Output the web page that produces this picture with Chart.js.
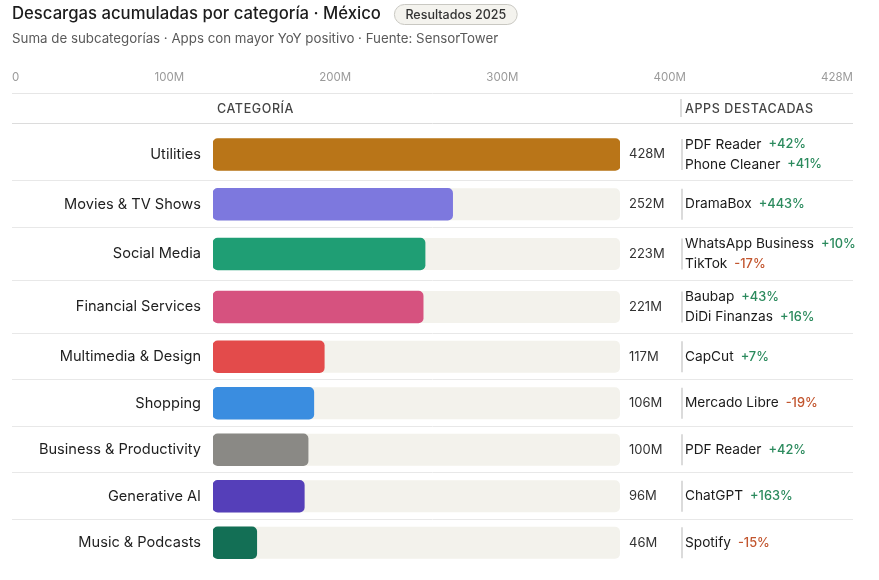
<!DOCTYPE html>
<html>
<head>
<meta charset="utf-8">
<script src="https://cdn.jsdelivr.net/npm/chart.js@4/dist/chart.umd.min.js"></script>
<style>
  html, body { margin: 0; padding: 0; background: #ffffff; }
  #wrap { width: 879px; height: 580px; position: relative; }
</style>
</head>
<body>
<div id="wrap"><canvas id="c" width="879" height="580"></canvas></div>
<script>
// ---- data ----
const categories = ['Utilities', 'Movies & TV Shows', 'Social Media', 'Financial Services', 'Multimedia & Design', 'Shopping', 'Business & Productivity', 'Generative AI', 'Music & Podcasts'];
const downloads = [428, 252, 223, 221, 117, 106, 100, 96, 46];
const appNames = [
  ['PDF Reader', 'Phone Cleaner'],
  ['DramaBox'],
  ['WhatsApp Business', 'TikTok'],
  ['Baubap', 'DiDi Finanzas'],
  ['CapCut'],
  ['Mercado Libre'],
  ['PDF Reader'],
  ['ChatGPT'],
  ['Spotify']
];
const appYoY = [[42, 41], [443], [10, -17], [43, 16], [7], [-19], [42], [163], [-15]];
const tickLabels = ['0', '100M', '200M', '300M', '400M', '428M'];

// ---- styles ----
const barColors = ['#b97518', '#7d78de', '#1f9e74', '#d6527f', '#e34b4b', '#3a8de0', '#8a8985', '#553fb9', '#136f55'];
const FONT = 'Inter, "Noto Sans", sans-serif';
const TITLE = 'Descargas acumuladas por categoría · México';
const SUBTITLE = 'Suma de subcategorías · Apps con mayor YoY positivo · Fuente: SensorTower';
const BADGE = 'Resultados 2025';

// row layout derived from number of featured apps
const rowHeights = appNames.map(a => a.length > 1 ? 53 : 46.5);
const rowTops = [];
let acc = 0;
rowHeights.forEach(h => { rowTops.push(acc); acc += h; });
const totalRows = acc;
const rowCenters = rowTops.map((t, i) => t + rowHeights[i] / 2);
const maxVal = Math.max(...downloads);

const LEFT = 12, RIGHT = 853;

const decor = {
  id: 'decor',
  beforeDraw(chart) {
    const ctx = chart.ctx;
    const x = chart.scales.x, y = chart.scales.y;
    ctx.save();
    // title
    ctx.fillStyle = '#1c1c1c';
    ctx.font = '500 16.7px ' + FONT;
    ctx.textBaseline = 'alphabetic';
    ctx.textAlign = 'left';
    ctx.fillText(TITLE, LEFT, 19);
    const tw = ctx.measureText(TITLE).width;
    // badge
    ctx.font = '500 12.5px ' + FONT;
    const bw = ctx.measureText(BADGE).width + 22;
    const bx = LEFT + tw + 13, by = 4, bh = 20;
    ctx.beginPath();
    ctx.roundRect(bx + 0.5, by + 0.5, bw, bh, 10);
    ctx.fillStyle = '#f4f3ee';
    ctx.fill();
    ctx.strokeStyle = '#c9c8c2';
    ctx.lineWidth = 1;
    ctx.stroke();
    ctx.fillStyle = '#333';
    ctx.textAlign = 'center';
    ctx.textBaseline = 'middle';
    ctx.fillText(BADGE, bx + bw / 2 + 0.5, by + bh / 2 + 1);
    // subtitle
    ctx.textAlign = 'left';
    ctx.textBaseline = 'alphabetic';
    ctx.fillStyle = '#5a5a5a';
    ctx.font = '13.3px ' + FONT;
    ctx.fillText(SUBTITLE, LEFT, 43);
    // top tick labels (space-between)
    ctx.font = '11.5px ' + FONT;
    ctx.fillStyle = '#9a9a9a';
    const widths = tickLabels.map(t => ctx.measureText(t).width);
    const sumW = widths.reduce((a, b) => a + b, 0);
    const gap = (RIGHT - LEFT - sumW) / (tickLabels.length - 1);
    let tx = LEFT;
    tickLabels.forEach((t, i) => { ctx.fillText(t, tx, 81); tx += widths[i] + gap; });
    // header lines
    ctx.strokeStyle = '#e6e6e6';
    ctx.lineWidth = 1;
    ctx.beginPath(); ctx.moveTo(LEFT, 93.5); ctx.lineTo(RIGHT, 93.5); ctx.stroke();
    ctx.strokeStyle = '#dcdcdc';
    ctx.beginPath(); ctx.moveTo(LEFT, 123.5); ctx.lineTo(RIGHT, 123.5); ctx.stroke();
    // header texts
    ctx.fillStyle = '#444';
    ctx.font = '500 12.5px ' + FONT;
    ctx.letterSpacing = '0.6px';
    ctx.fillText('CATEGORÍA', x.left + 4, 113);
    ctx.fillText('APPS DESTACADAS', 685, 113);
    ctx.letterSpacing = '0px';
    ctx.strokeStyle = '#d0d0d0';
    ctx.lineWidth = 1.5;
    ctx.beginPath(); ctx.moveTo(681, 99); ctx.lineTo(681, 117); ctx.stroke();
    // row separators
    ctx.strokeStyle = '#e8e8e8';
    ctx.lineWidth = 1;
    for (let i = 1; i < rowTops.length; i++) {
      const py = Math.round(y.getPixelForValue(rowTops[i])) + 0.5;
      ctx.beginPath(); ctx.moveTo(LEFT, py); ctx.lineTo(RIGHT, py); ctx.stroke();
    }
    ctx.restore();
  },
  beforeDatasetsDraw(chart) {
    const ctx = chart.ctx;
    const x = chart.scales.x, y = chart.scales.y;
    ctx.save();
    ctx.fillStyle = '#f3f2ec';
    const x0 = x.getPixelForValue(0), x1 = x.getPixelForValue(maxVal);
    rowCenters.forEach(c => {
      const cy = y.getPixelForValue(c) + 1;
      ctx.beginPath();
      ctx.roundRect(x0, cy - 16, x1 - x0, 32, 5);
      ctx.fill();
    });
    ctx.restore();
  },
  afterDatasetsDraw(chart) {
    const ctx = chart.ctx;
    const x = chart.scales.x, y = chart.scales.y;
    ctx.save();
    ctx.textBaseline = 'middle';
    ctx.textAlign = 'left';
    downloads.forEach((v, i) => {
      const cy = y.getPixelForValue(rowCenters[i]) + 1;
      ctx.fillStyle = '#333';
      ctx.font = '13px ' + FONT;
      ctx.fillText(v + 'M', x.right + 9, cy);
      // divider
      ctx.strokeStyle = '#cfcfcf';
      ctx.lineWidth = 1.5;
      ctx.beginPath(); ctx.moveTo(682, cy - 15.5); ctx.lineTo(682, cy + 15.5); ctx.stroke();
      const names = appNames[i];
      const n = names.length;
      names.forEach((nm, j) => {
        const ly = cy + (n > 1 ? (j === 0 ? -10 : 10) : 0);
        ctx.font = '13.7px ' + FONT;
        ctx.fillStyle = '#1a1a1a';
        ctx.fillText(nm, 685, ly);
        const w = ctx.measureText(nm).width;
        const p = appYoY[i][j];
        ctx.font = '500 12.8px ' + FONT;
        ctx.fillStyle = p >= 0 ? '#2b8a5d' : '#c2562f';
        ctx.fillText((p >= 0 ? '+' : '') + p + '%', 685 + w + 7, ly);
      });
    });
    ctx.restore();
  }
};

new Chart(document.getElementById('c'), {
  type: 'bar',
  data: {
    datasets: [{
      data: downloads.map((v, i) => ({ x: v, y: rowCenters[i] + 1 })),
      backgroundColor: barColors,
      borderRadius: 5,
      borderSkipped: false,
      barThickness: 32
    }]
  },
  options: {
    indexAxis: 'y',
    responsive: false,
    devicePixelRatio: 1,
    animation: false,
    layout: { padding: { left: LEFT, right: 259, top: 127, bottom: 15 } },
    plugins: { legend: { display: false }, tooltip: { enabled: false }, title: { display: false } },
    scales: {
      x: { type: 'linear', min: 0, max: maxVal, display: false },
      y: {
        type: 'linear', reverse: true, min: 0, max: totalRows, offset: false,
        afterBuildTicks(scale) { scale.ticks = rowCenters.map(v => ({ value: v + 1 })); },
        afterFit(scale) { scale.width = 201; scale.paddingTop = 0; scale.paddingBottom = 0; },
        grid: { display: false, drawTicks: false },
        border: { display: false },
        ticks: {
          autoSkip: false,
          padding: 12,
          color: '#1e1e1e',
          font: { family: 'Inter, "Noto Sans", sans-serif', size: 14.6 },
          callback: (val, idx) => categories[idx]
        }
      }
    }
  },
  plugins: [decor]
});
</script>
</body>
</html>
